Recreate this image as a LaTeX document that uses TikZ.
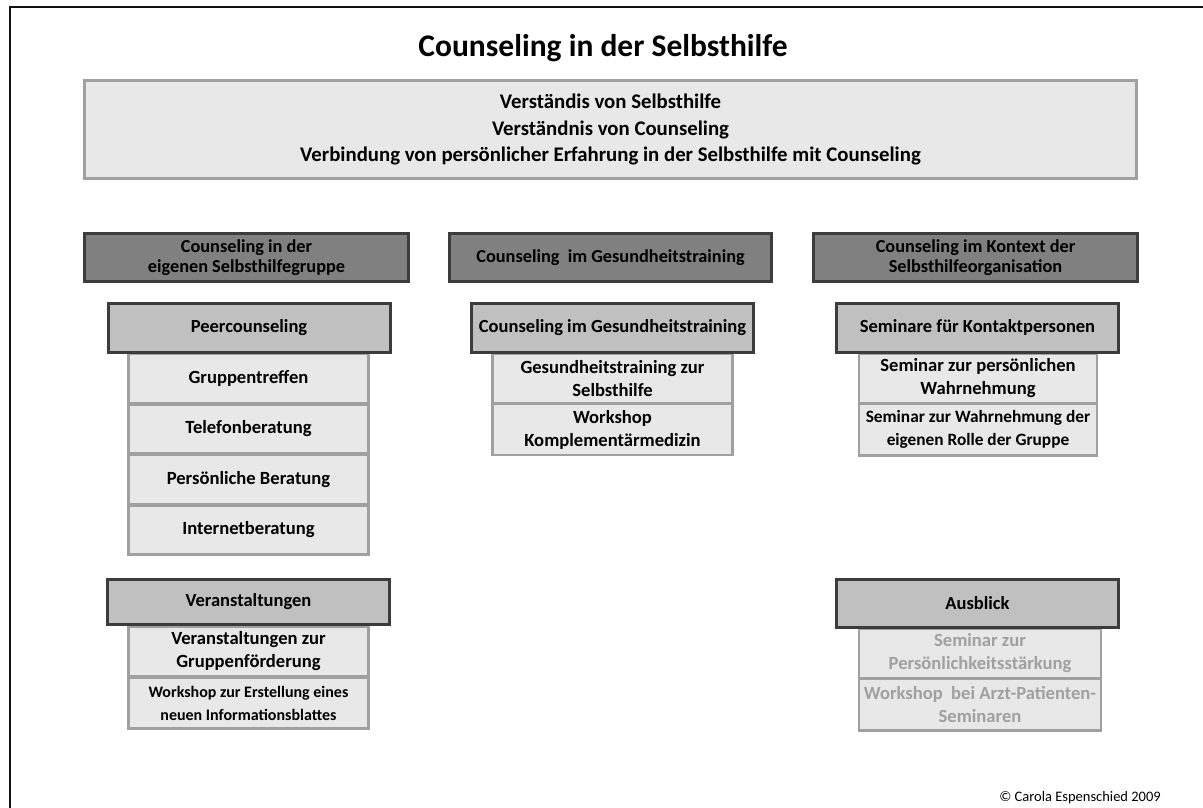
\documentclass[tikz,border=0pt]{standalone}
\usepackage{fontspec}
\setmainfont{Carlito}
\definecolor{frameline}{HTML}{111111}
\definecolor{lightfill}{HTML}{E8E8E8}
\definecolor{lightline}{HTML}{A0A0A0}
\definecolor{midfill}{HTML}{C0C0C0}
\definecolor{darkfill}{HTML}{808080}
\definecolor{darkline}{HTML}{3C3C3C}
\definecolor{fadedtext}{HTML}{A0A0A0}
\tikzset{
  x=1pt, y=-1pt,
  panel/.style={rectangle, draw=lightline, fill=lightfill, line width=3pt,
    align=center, inner sep=0pt, font=\bfseries\fontsize{20.8}{26.5}\selectfont},
  colhead/.style={rectangle, draw=darkline, fill=darkfill, line width=2.5pt,
    minimum width=322pt, minimum height=48pt, align=center, inner sep=0pt,
    font=\bfseries\fontsize{18.3}{20.5}\selectfont},
  subhead/.style={rectangle, draw=darkline, fill=midfill, line width=3pt,
    minimum width=282pt, minimum height=49pt, align=center, inner sep=0pt,
    font=\bfseries\fontsize{18.5}{22}\selectfont},
  item/.style={rectangle, draw=lightline, fill=lightfill, line width=2.5pt,
    minimum width=240pt, minimum height=49pt, align=center, inner sep=0pt,
    font=\bfseries\fontsize{18.6}{23}\selectfont},
  smallitem/.style={item, font=\bfseries\fontsize{16}{23}\selectfont},
  faded/.style={text=fadedtext},
}
\begin{document}
\begin{tikzpicture}
\useasboundingbox (0,0) rectangle (1203,807);
% page frame (only the top and left edges lie inside the page)
\draw[frameline, line width=2.5pt] (10,830) -- (10,7) -- (1230,7);

% title and the overview panel
\node[font=\bfseries\fontsize{31.5}{35}\selectfont] (title) at (603,48) {Counseling in der Selbsthilfe};
\node[panel, minimum width=1052pt, minimum height=98pt] (overview) at (610.5,129.5)
  {Verständis von Selbsthilfe\\Verständnis von Counseling\\Verbindung von persönlicher Erfahrung in der Selbsthilfe mit Counseling};

% column headings
\node[colhead, minimum width=324pt] (colA) at (246.5,257.5) {Counseling in der\\eigenen Selbsthilfegruppe};
\node[colhead] (colB) at (610.5,257.5) {Counseling\ \ im Gesundheitstraining};
\node[colhead, minimum width=324pt] (colC) at (975.5,257.5) {Counseling im Kontext der\\Selbsthilfeorganisation};

% left column: peer counseling
\node[item] (a1) at (248.5,378.5) {Gruppentreffen};
\node[item] (a2) at (248.5,429) {Telefonberatung};
\node[item] (a3) at (248.5,479.5) {Persönliche Beratung};
\node[item] (a4) at (248.5,530) {Internetberatung};
\node[subhead] (peer) at (249,327.5) {Peercounseling};

% middle column
\node[item] (b1) at (612.5,378.5) {Gesundheitstraining zur\\Selbsthilfe};
\node[item, minimum height=51pt] (b2) at (612.5,429.5) {Workshop\\Komplementärmedizin};
\node[subhead] (health) at (612.5,327.5) {Counseling im Gesundheitstraining};

% right column
\node[item, minimum width=238pt] (c1) at (978,378.5) {Seminar zur persönlichen\\Wahrnehmung};
\node[smallitem, minimum width=238pt, minimum height=52pt, font=\bfseries\fontsize{17.3}{23}\selectfont] (c2) at (978,429.5) {Seminar zur Wahrnehmung der\\eigenen Rolle der Gruppe};
\node[subhead] (contact) at (977.5,327.5) {Seminare für Kontaktpersonen};

% left column: events
\node[item, minimum height=50pt] (d1) at (248.5,651.5) {Veranstaltungen zur\\Gruppenförderung};
\node[smallitem, minimum height=51pt] (d2) at (248.5,703) {Workshop zur Erstellung eines\\neuen Informationsblattes};
\node[subhead, minimum height=45pt] (events) at (248.5,602) {Veranstaltungen};

% right column: outlook
\node[item, faded, minimum width=242pt] (e1) at (980,653.5) {Seminar zur\\Persönlichkeitsstärkung};
\node[item, faded, minimum width=242pt, minimum height=52pt] (e2) at (980,704.5) {Workshop\ \ bei Arzt-Patienten-\\Seminaren};
\node[subhead, minimum height=48pt] (outlook) at (977.5,603.5) {Ausblick};

% copyright line
\node[anchor=base east, font=\fontsize{14.5}{16}\selectfont, inner sep=0pt] (copy) at (1161,801) {© Carola Espenschied 2009};
\end{tikzpicture}
\end{document}
